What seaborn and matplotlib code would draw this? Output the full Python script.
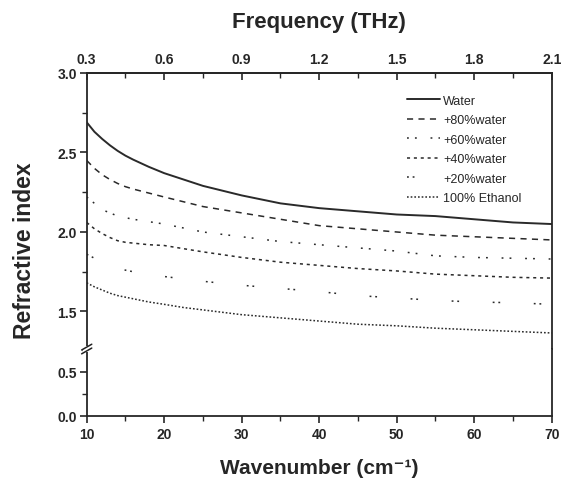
import matplotlib
matplotlib.use("Agg")
import matplotlib.pyplot as plt
from matplotlib.ticker import MultipleLocator, FormatStrFormatter
from matplotlib.lines import Line2D
from matplotlib.patches import Rectangle
import seaborn as sns

# 数据：波数 (cm-1) 与各样品折射率
wavenumber = [10, 11, 12, 13, 14, 15, 16, 18, 20, 22.5, 25, 30, 35, 40, 45, 50, 55, 60, 65, 70]
n_water = [2.69, 2.63, 2.585, 2.545, 2.51, 2.48, 2.455, 2.41, 2.37, 2.33, 2.29,
           2.23, 2.18, 2.15, 2.13, 2.11, 2.10, 2.08, 2.06, 2.05]
n_80 = [2.45, 2.40, 2.36, 2.33, 2.305, 2.285, 2.27, 2.245, 2.22, 2.19, 2.16,
        2.12, 2.08, 2.04, 2.02, 2.00, 1.98, 1.97, 1.96, 1.95]
n_60 = [2.22, 2.18, 2.14, 2.12, 2.10, 2.09, 2.08, 2.065, 2.05, 2.025, 2.00,
        1.97, 1.94, 1.92, 1.90, 1.88, 1.85, 1.84, 1.835, 1.83]
n_40 = [2.06, 2.02, 1.99, 1.965, 1.945, 1.935, 1.93, 1.92, 1.915, 1.895, 1.875,
        1.84, 1.81, 1.79, 1.77, 1.755, 1.735, 1.725, 1.715, 1.71]
n_20 = [1.86, 1.835, 1.81, 1.79, 1.775, 1.76, 1.75, 1.73, 1.72, 1.705, 1.69,
        1.665, 1.645, 1.625, 1.60, 1.585, 1.57, 1.56, 1.555, 1.545]
n_ethanol = [1.68, 1.655, 1.635, 1.615, 1.60, 1.59, 1.58, 1.56, 1.545, 1.525, 1.51,
             1.48, 1.46, 1.44, 1.42, 1.41, 1.395, 1.385, 1.375, 1.365]

labels = ["Water", "+80%water", "+60%water", "+40%water", "+20%water", "100% Ethanol"]
series = [n_water, n_80, n_60, n_40, n_20, n_ethanol]
styles = ["-", (0, (4, 3.5)), (0, (1.2, 4, 1.2, 9)), (0, (2, 2.5)), (0, (1.2, 2.5, 1.2, 22)), (0, (1.1, 1.3))]
widths = [1.4, 1.1, 1.1, 1.1, 1.1, 1.1]

THZ_PER_CM = 0.03  # 原图使用 1 cm-1 ≈ 0.03 THz

sns.set_style("ticks")
plt.rcParams["font.family"] = ["Liberation Sans", "DejaVu Sans"]
plt.rcParams["axes.linewidth"] = 1.3

fig = plt.figure(figsize=(5.63, 4.81), dpi=100)
L, W = 0.154, 0.826
ax_top = fig.add_axes([L, 0.2723, W, 0.5739])
ax_bot = fig.add_axes([L, 0.1331, W, 0.1392], sharex=ax_top)

line_color = "#2a2a2a"
for name, vals, ls, lw in zip(labels, series, styles, widths):
    sns.lineplot(x=wavenumber, y=vals, ax=ax_top, color=line_color,
                 linestyle=ls, linewidth=lw, label=name)

# ── 坐标轴范围与刻度 ──────────────────────────────────────
ax_top.set_xlim(10, 70)
ax_top.set_ylim(1.264, 3.0)
ax_bot.set_ylim(0, 0.76)

ax_top.yaxis.set_major_locator(MultipleLocator(0.5))
ax_top.yaxis.set_minor_locator(MultipleLocator(0.25))
ax_bot.yaxis.set_major_locator(MultipleLocator(0.5))
ax_bot.yaxis.set_minor_locator(MultipleLocator(0.25))
for a in (ax_top, ax_bot):
    a.yaxis.set_major_formatter(FormatStrFormatter("%.1f"))
    a.tick_params(axis="y", which="major", direction="out", length=5, width=1.2,
                  labelsize=10, pad=2)
    a.tick_params(axis="y", which="minor", direction="out", length=3.5, width=1.0)
    for lab in a.get_yticklabels():
        lab.set_fontweight("bold")
    a.set_ylabel("")
    a.set_xlabel("")

ax_bot.xaxis.set_major_locator(MultipleLocator(10))
ax_bot.xaxis.set_minor_locator(MultipleLocator(5))
ax_bot.tick_params(axis="x", which="major", direction="out", length=5, width=1.2,
                   labelsize=10, pad=3)
ax_bot.tick_params(axis="x", which="minor", direction="out", length=3.5, width=1.0)
for lab in ax_bot.get_xticklabels():
    lab.set_fontweight("bold")
ax_top.tick_params(axis="x", which="both", bottom=False, labelbottom=False)

ax_top.spines["bottom"].set_visible(False)
ax_bot.spines["top"].set_visible(False)

# 顶部频率坐标轴
sec = ax_top.secondary_xaxis("top", functions=(lambda w: w * THZ_PER_CM, lambda f: f / THZ_PER_CM))
sec.set_xticks([0.3, 0.6, 0.9, 1.2, 1.5, 1.8, 2.1])
sec.xaxis.set_minor_locator(MultipleLocator(0.15))
sec.xaxis.set_major_formatter(FormatStrFormatter("%.1f"))
sec.tick_params(axis="x", which="major", direction="in", length=5, width=1.2, labelsize=10, pad=5)
sec.tick_params(axis="x", which="minor", direction="in", length=3.5, width=1.0)
for lab in sec.get_xticklabels():
    lab.set_fontweight("bold")
sec.set_xlabel("Frequency (THz)", fontsize=16, fontweight="bold", labelpad=18)

ax_bot.set_xlabel("Wavenumber (cm\u207b\u00b9)", fontsize=15, fontweight="bold", labelpad=12)
fig.text(0.044, 0.478, "Refractive index", rotation=90, fontsize=16.5, fontweight="bold",
         ha="center", va="center")

# 图例
ax_top.legend(loc="upper left", bbox_to_anchor=(0.689, 0.922), frameon=False, fontsize=9,
              handlelength=2.6, handletextpad=0.3, labelspacing=0.6, borderaxespad=0, borderpad=0)

# 断轴标记
bx = L
by = 0.2723
fig.patches.append(Rectangle((bx - 0.006, by - 0.006), 0.012, 0.012, transform=fig.transFigure,
                             facecolor="white", edgecolor="none", zorder=10))
for dy in (-0.004, 0.004):
    fig.lines.append(Line2D([bx - 0.009, bx + 0.009], [by + dy - 0.006, by + dy + 0.006],
                            transform=fig.transFigure, color="#222222", linewidth=1.1, zorder=11))

fig.savefig("out.png", dpi=100)
